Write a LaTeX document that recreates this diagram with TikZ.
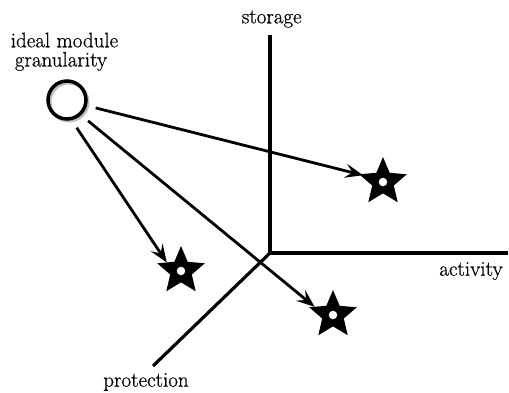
\documentclass[tikz,border=0pt]{standalone}
\usepackage{fontspec}
\usetikzlibrary{shapes.geometric,arrows.meta}
\newfontfamily\lblfont{Latin Modern Roman}[FakeBold=0.6]
\begin{document}
\begin{tikzpicture}[x=1pt,y=-1pt,
  lbl/.style={font=\lblfont\fontsize{21}{24}\selectfont, anchor=base, inner sep=0pt},
  axis/.style={line width=3.2pt, line join=miter},
  ray/.style={line width=2.8pt, -{Stealth[length=18pt,width=14pt,inset=7pt]}, shorten <=9pt},
  starmark/.style={star, star points=5, star point ratio=2.2, minimum size=50pt, inner sep=0pt, outer sep=0pt, fill=black},
  hole/.style={circle, fill=white, minimum size=8.5pt, inner sep=0pt},
  ring/.style={circle, draw, line width=3.5pt, minimum size=38pt, inner sep=0pt}]
\useasboundingbox (0,0) rectangle (509,392);

% the three axes
\coordinate (o) at (270,253);
\coordinate (ytop) at (270,35);
\coordinate (xend) at (508,253);
\coordinate (zend) at (153,366);
\draw[axis] (ytop) -- (o) -- (xend);
\draw[axis] (o) -- (zend);

% axis labels
\node[lbl] (storage) at (271.7,23.3) {storage};
\node[lbl] (activity) at (471,275.7) {activity};
\node[lbl] (protection) at (146,386.7) {protection};

% ideal granularity marker with its soft shadow
\node[ring, draw=gray!50, line width=3pt] (shadow) at (69,102) {};
\node[ring] (c) at (67,100) {};
\node[lbl] (l1) at (64.5,47.3) {ideal module};
\node[lbl] (l2) at (61,66.5) {granularity};

% actual module positions
\node[starmark] (s1) at (383,182) {};
\node[hole] (h1) at (s1.center) {};
\node[starmark] (s2) at (181,271) {};
\node[hole] (h2) at (s2.center) {};
\node[starmark] (s3) at (333,315) {};
\node[hole] (h3) at (s3.center) {};

% deviations from the ideal
\draw[ray, shorten >=-4pt] (c.-16) -- (s1.162);
\draw[ray] (c.-77) -- (s2.149);
\draw[ray] (c.-47) -- (s3.156);
\end{tikzpicture}
\end{document}
